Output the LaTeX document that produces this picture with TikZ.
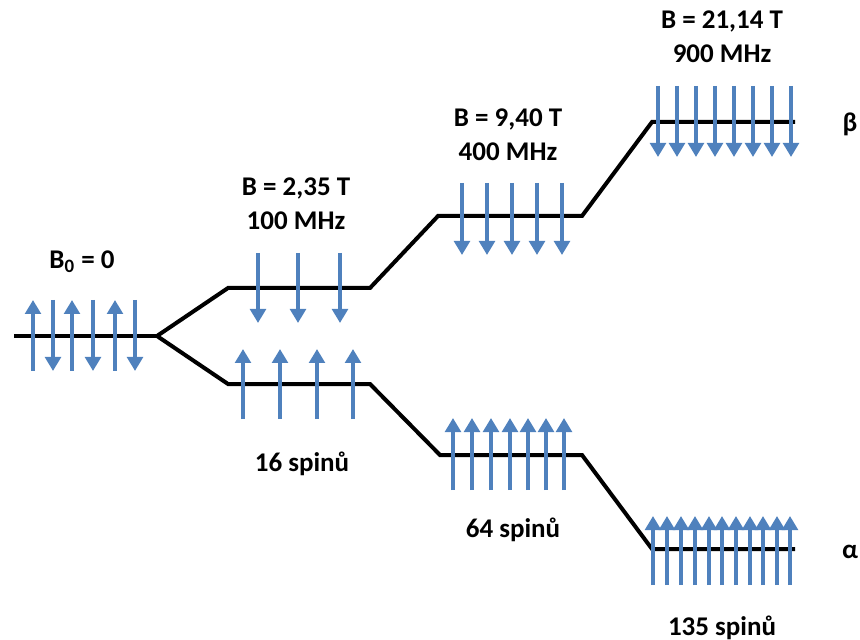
\documentclass[tikz,border=0pt]{standalone}
\usepackage{fontspec}
\setmainfont{Carlito}
\usetikzlibrary{arrows.meta}

\definecolor{spinblue}{RGB}{79,129,189}

\begin{document}
\begin{tikzpicture}[
    x=0.5pt, y=-0.5pt,
    level/.style={line width=2pt},
    spinup/.style={draw=spinblue, line width=2.1pt,
        -{Triangle[width=7.8pt,length=7pt]}},
    spindown/.style={spinup},
    lbl/.style={font=\fontsize{13.5}{17}\selectfont\bfseries,
        align=center, inner sep=0pt}
]
\useasboundingbox (0,0) rectangle (860,640);

% ---- energy levels (y grows downward, unit = 0.5pt) ----
\coordinate (start) at (14,336);
\coordinate (split) at (157,336);
\coordinate (U1a) at (228,288);
\coordinate (U1b) at (370,288);
\coordinate (U2a) at (438,216);
\coordinate (U2b) at (582,216);
\coordinate (U3a) at (652,122);
\coordinate (U3b) at (795,122);
\coordinate (L1a) at (228,384);
\coordinate (L1b) at (370,384);
\coordinate (L2a) at (440,455);
\coordinate (L2b) at (582,455);
\coordinate (L3a) at (652,549);
\coordinate (L3b) at (795,549);

\draw[level] (start) -- (split);
\draw[level] (split) -- (U1a) -- (U1b) -- (U2a) -- (U2b) -- (U3a) -- (U3b);
\draw[level] (split) -- (L1a) -- (L1b) -- (L2a) -- (L2b) -- (L3a) -- (L3b);

% ---- spins at B0 = 0 ----
\foreach \x in {33,72,115}
    \draw[spinup] (\x,371) -- (\x,300);
\foreach \x in {53,93,135}
    \draw[spindown] (\x,300) -- (\x,371);

% ---- spins, beta (down) ----
\foreach \x in {258,298,340}
    \draw[spindown] (\x,253) -- (\x,323);
\foreach \x in {462,487,512,537,562}
    \draw[spindown] (\x,183) -- (\x,255);
\foreach \x in {658,677,696,715,734,753,772,791}
    \draw[spindown] (\x,86) -- (\x,157);

% ---- spins, alpha (up) ----
\foreach \x in {243,280,317,353}
    \draw[spinup] (\x,419) -- (\x,349);
\foreach \x in {453,472,491,510,528,546,564}
    \draw[spinup] (\x,490) -- (\x,418);
\foreach \x in {653,667,681,695,709,722,736,750,763,777,790}
    \draw[spinup] (\x,585) -- (\x,516);

% ---- field labels ----
\node[lbl] (b0) at (82,262) {B\textsubscript{0} = 0};
\node[lbl] (b1) at (296,204) {B = 2,35 T\\100 MHz};
\node[lbl] (b2) at (508,135) {B = 9,40 T\\400 MHz};
\node[lbl] (b3) at (722,37) {B = 21,14 T\\900 MHz};

% ---- populations ----
\node[lbl] (n1) at (302,464) {16 spinů};
\node[lbl] (n2) at (513,530) {64 spinů};
\node[lbl] (n3) at (722,628) {135 spinů};

% ---- state labels ----
\node[lbl] (beta) at (850,124) {β};
\node[lbl] (alpha) at (850,552) {α};

\end{tikzpicture}
\end{document}
